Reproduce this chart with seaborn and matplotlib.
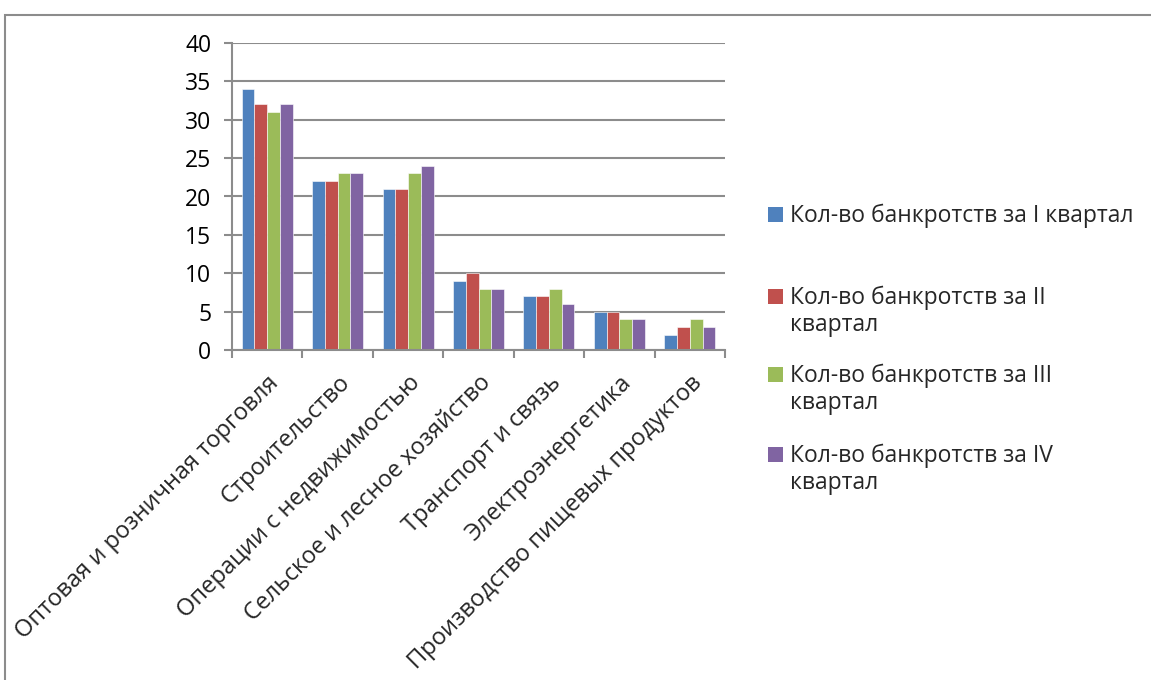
import matplotlib
matplotlib.use("Agg")
import matplotlib.pyplot as plt
import seaborn as sns
import pandas as pd
from matplotlib.patches import Rectangle
from matplotlib.ticker import MultipleLocator, FixedLocator

categories = ["Оптовая и розничная торговля", "Строительство", "Операции с недвижимостью",
              "Сельское и лесное хозяйство", "Транспорт и связь", "Электроэнергетика",
              "Производство пищевых продуктов"]
series_names = ["Кол-во банкротств за I квартал", "Кол-во банкротств за II квартал",
                "Кол-во банкротств за III квартал", "Кол-во банкротств за IV квартал"]
legend_labels = ["Кол-во банкротств за I квартал", "Кол-во банкротств за II\nквартал",
                 "Кол-во банкротств за III\nквартал", "Кол-во банкротств за IV\nквартал"]
q1 = [34, 22, 21, 9, 7, 5, 2]
q2 = [32, 22, 21, 10, 7, 5, 3]
q3 = [31, 23, 23, 8, 8, 4, 4]
q4 = [32, 23, 24, 8, 6, 4, 3]
colors = ["#4F81BD", "#C0504D", "#9BBB59", "#8064A2"]

rows = []
for name, vals in zip(series_names, [q1, q2, q3, q4]):
    for c, v in zip(categories, vals):
        rows.append({"cat": c, "series": name, "value": v})
df = pd.DataFrame(rows)

sns.set_style("white")
plt.rcParams["font.family"] = ["Open Sans", "DejaVu Sans"]

W, H = 1151, 680
fig = plt.figure(figsize=(W / 100, H / 100), dpi=100)
ax = fig.add_axes([232 / W, 1 - 350 / H, (725 - 232) / W, (350 - 43) / H])

sns.barplot(data=df, x="cat", y="value", hue="series", order=categories,
            hue_order=series_names, palette=colors, width=0.725, gap=0,
            saturation=1, edgecolor="#FFFFFF", linewidth=0.4, ax=ax, legend=False)

ax.set_xlim(-0.5, len(categories) - 0.5)
ax.set_ylim(0, 40)
ax.yaxis.set_major_locator(MultipleLocator(5))
ax.grid(axis="y", color="#8C8C8C", linewidth=1.5)
ax.set_axisbelow(True)
for s in ["top", "right"]:
    ax.spines[s].set_visible(False)
for s in ["left", "bottom"]:
    ax.spines[s].set_color("#8C8C8C")
    ax.spines[s].set_linewidth(1.5)
ax.set_xlabel("")
ax.set_ylabel("")

ax.tick_params(axis="y", which="major", length=6, width=1.5, color="#8C8C8C",
               direction="out", left=True, pad=9, labelsize=16.5, labelcolor="black")
ax.xaxis.set_minor_locator(FixedLocator([i - 0.5 for i in range(len(categories) + 1)]))
ax.tick_params(axis="x", which="minor", length=6, width=1.5, color="#8C8C8C",
               direction="out", bottom=True)
ax.tick_params(axis="x", which="major", length=0, pad=15, labelsize=17)
ax.set_xticks(range(len(categories)))
ax.set_xticklabels(categories, rotation=45, ha="right", va="top", rotation_mode="anchor")

# Legend (manual, Excel-style)
first_line_y = [215, 297, 375, 455]
for lab, col, yp in zip(legend_labels, colors, first_line_y):
    fig.patches.append(Rectangle((768 / W, 1 - (yp + 7) / H), 15 / W, 15 / H,
                                 transform=fig.transFigure, facecolor=col, edgecolor="none"))
    fig.text(790 / W, 1 - (yp - 11) / H, lab, fontsize=16.5, ha="left", va="top",
             linespacing=1.15)

# Outer chart frame
fig.patches.append(Rectangle((4.5 / W, -0.05), 1.2, 1 - 14.5 / H + 0.05,
                             transform=fig.transFigure, facecolor="none",
                             edgecolor="#8C8C8C", linewidth=1.5))

fig.savefig("out.png", dpi=100)
